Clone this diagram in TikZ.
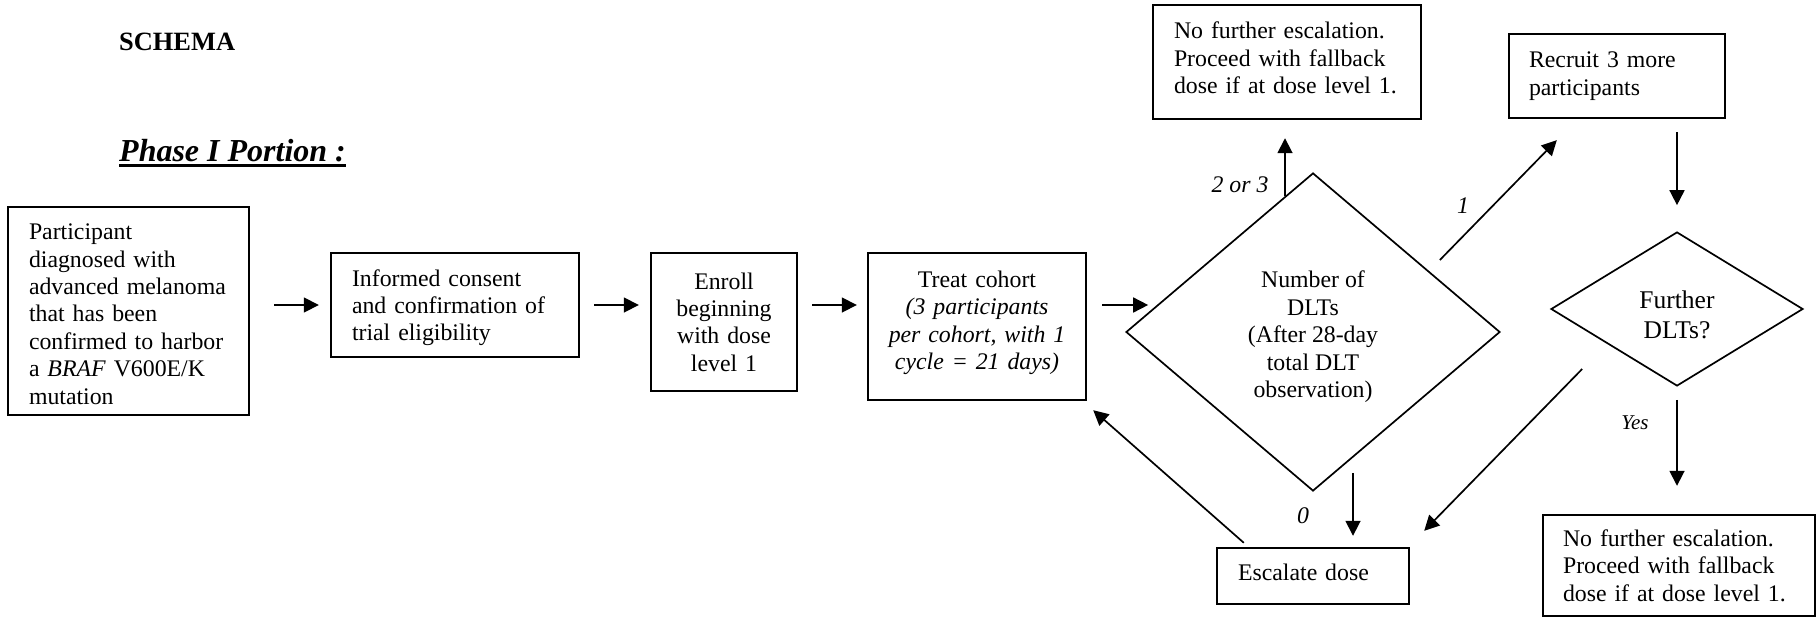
\documentclass[tikz,border=0pt]{standalone}
\usepackage{fontspec}
\setmainfont{Liberation Serif}
\usetikzlibrary{arrows.meta,shapes.geometric,calc}
\begin{document}
\begin{tikzpicture}[x=1pt,y=-1pt,
  every node/.style={font=\fontsize{23.8}{27.4}\selectfont},
  box/.style={draw, line width=2.4pt, inner ysep=0pt, align=left},
  cbox/.style={draw, line width=2.4pt, inner ysep=0pt, align=center},
  dia/.style={draw, diamond, line width=1.7pt, inner sep=0pt, align=center},
  arr/.style={line width=1.7pt, -{Triangle[length=15pt,width=15pt]}},
  lbl/.style={font=\fontsize{23.8}{27.4}\selectfont\itshape, inner sep=0pt, anchor=base},
]
\useasboundingbox (0,0) rectangle (1817,618);

% titles
\node[anchor=base west, inner sep=0pt, font=\fontsize{26.4}{30}\selectfont\bfseries] (sch) at (119,51) {SCHEMA};
\node[anchor=base west, inner sep=0pt, font=\fontsize{32}{36}\selectfont\bfseries\itshape] (ph) at (119,161) {Phase I Portion :};
\draw[line width=3pt] ($(ph.base west)+(0,4.5)$) -- ($(ph.base east)+(0,4.5)$);

% boxes
\node[box, minimum width=241pt, minimum height=208pt, text width=199pt, inner xsep=21pt, text height=22pt] (b1) at (128.5,311)
  {Participant\\diagnosed with\\advanced melanoma\\that has been\\confirmed to harbor\\a \textit{BRAF} V600E/K\\mutation};
\node[box, minimum width=248pt, minimum height=104pt, text width=206pt, inner xsep=21pt, text height=22pt] (b2) at (455,305)
  {Informed consent\\and confirmation of\\trial eligibility};
\node[cbox, minimum width=146pt, minimum height=138pt, text width=120pt, inner xsep=13pt] (b3) at (724,322)
  {Enroll\\beginning\\with dose\\level 1};
\node[cbox, minimum width=218pt, minimum height=147pt, text width=190pt, inner xsep=14pt, text depth=95pt] (b4) at (977,326.5)
  {Treat cohort\\\textit{(3 participants}\\\textit{per cohort, with 1}\\\textit{cycle = 21 days)}};
\node[dia, minimum width=374pt, minimum height=318pt, text height=136pt] (d1) at (1313,332)
  {Number of\\DLTs\\(After 28-day\\total DLT\\observation)};
\node[box, minimum width=268pt, minimum height=114pt, text width=226pt, inner xsep=21pt, text depth=63pt] (nt) at (1287,62)
  {No further escalation.\\Proceed with fallback\\dose if at dose level 1.};
\node[box, minimum width=216pt, minimum height=84pt, text width=176pt, inner xsep=20pt] (rc) at (1617,76)
  {Recruit 3 more\\participants};
\node[dia, minimum width=252pt, minimum height=154pt, font=\fontsize{25.5}{29.5}\selectfont, text height=59pt] (d2) at (1677,309)
  {Further\\DLTs?};
\node[box, minimum width=272pt, minimum height=101pt, text width=232pt, inner xsep=20pt] (nb) at (1679,565.5)
  {No further escalation.\\Proceed with fallback\\dose if at dose level 1.};
\node[box, minimum width=192pt, minimum height=56pt, text width=150pt, inner xsep=21pt, text depth=7pt] (esc) at (1313,576)
  {Escalate dose};

% labels
\node[lbl] (l23) at (1240,192) {2 or 3};
\node[lbl] (l1) at (1463,213) {1};
\node[lbl] (l0) at (1303,523) {0};
\node[lbl, font=\fontsize{21}{24}\selectfont\itshape] (lyes) at (1635,429) {Yes};

% connectors
\draw[arr, shorten <=24pt, shorten >=11pt] (b1.east |- b2.west) -- (b2.west);
\draw[arr, shorten <=14pt, shorten >=11pt] (b2.east) -- (b2.east -| b3.west);
\draw[arr, shorten <=14pt, shorten >=10pt] (b3.east |- b2.east) -- (b4.west |- b2.east);
\draw[arr, shorten <=15pt] (b4.east |- b2.east) -- ($(d1.west |- b2.east)+(23,0)$);
\draw[arr] ($(d1.north)+(-28,24)$) -- ($(nt.south)+(-2,18)$);
\draw[arr] ($(d1.east)+(-61,-72)$) -- ($(rc.south west)+(49,21)$);
\draw[arr, shorten <=13pt, shorten >=26pt] (rc.south -| d2.north) -- (d2.north);
\draw[arr, shorten <=13pt, shorten >=28pt] (d2.south) -- (d2.south |- nb.north);
\draw[arr] ($(d2.west)+(32,60)$) -- ($(esc.north east)+(14,-16)$);
\draw[arr] ($(d1.south)+(40,-19)$) -- ($(esc.north)+(40,-11)$);
\draw[arr] ($(esc.north west)+(28,-4)$) -- ($(b4.south east)+(6,9)$);
\end{tikzpicture}
\end{document}
